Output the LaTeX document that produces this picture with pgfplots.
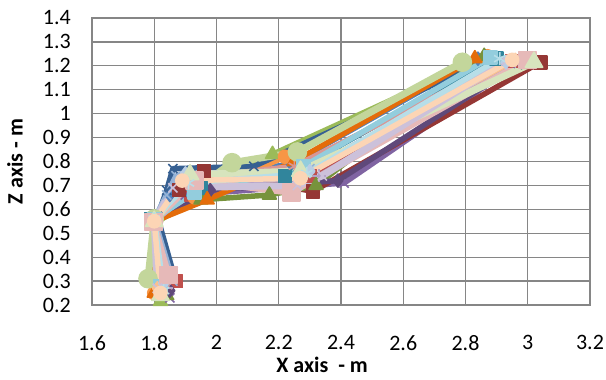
\documentclass[border=0pt]{standalone}
\usepackage{pgfplots}
\pgfplotsset{compat=1.18}
\usepackage{fontspec}
\setmainfont{Carlito}
\definecolor{gridc}{RGB}{134,134,134}
\definecolor{c1}{HTML}{4F81BD}\definecolor{c2}{HTML}{C0504D}\definecolor{c3}{HTML}{9BBB59}
\definecolor{c4}{HTML}{8064A2}\definecolor{c5}{HTML}{4BACC6}\definecolor{c6}{HTML}{F79646}
\definecolor{c7}{HTML}{376092}\definecolor{c8}{HTML}{953735}\definecolor{c9}{HTML}{77933C}
\definecolor{c10}{HTML}{5F497A}\definecolor{c11}{HTML}{31859C}\definecolor{c12}{HTML}{E46C0A}
\definecolor{c13}{HTML}{95B3D7}\definecolor{c14}{HTML}{D99694}\definecolor{c15}{HTML}{C3D69B}
\definecolor{c16}{HTML}{B3A2C7}\definecolor{c17}{HTML}{93CDDD}\definecolor{c18}{HTML}{FAC090}
\definecolor{c19}{HTML}{B9CDE5}\definecolor{c20}{HTML}{E6B9B8}\definecolor{c21}{HTML}{D7E4BD}
\definecolor{c22}{HTML}{CCC1DA}\definecolor{c23}{HTML}{B7DEE8}\definecolor{c24}{HTML}{FCD5B5}
\pgfplotsset{
  ser/.style={color=#1, line width=5.5bp, line join=round, mark size=6.5bp,
    mark options={solid, fill=#1, line width=1.6bp}},
}
\begin{document}
\begin{tikzpicture}
\begin{axis}[
  scale only axis, width=498bp, height=287bp,
  xmin=1.6, xmax=3.2, ymin=0.2, ymax=1.4,
  xtick={1.6,1.8,2.0,2.2,2.4,2.6,2.8,3.0,3.2},
  ytick={0.2,0.3,0.4,0.5,0.6,0.7,0.8,0.9,1.0,1.1,1.2,1.3,1.4},
  major tick length=0pt,
  grid=major,
  grid style={gridc, line width=1.2bp},
  axis line style={gridc, line width=1.2bp},
  /pgf/number format/assume math mode=true,
  /pgf/number format/.cd, fixed, precision=1, /pgfplots/.cd,
  tick label style={font=\fontsize{22bp}{24bp}\selectfont, black},
  xticklabel style={yshift=-27bp},
  yticklabel style={xshift=-17.7bp},
  xlabel={\textbf{X axis\ \ - m}},
  ylabel={\textbf{Z axis - m}},
  label style={font=\fontsize{22bp}{24bp}\selectfont},
  xlabel style={at={(axis description cs:0.462,-0.209)}, anchor=center},
  ylabel style={at={(axis description cs:-0.1546,0.5)}, anchor=center},
]
\addplot[ser=c1, mark=diamond*] coordinates {(1.82,0.26)(1.80,0.55)(1.85,0.66)(1.90,0.72)(2.24,0.79)(2.84,1.23)};
\addplot[ser=c2, mark=square*] coordinates {(1.87,0.30)(1.79,0.55)(1.92,0.66)(2.30,0.74)(2.95,1.22)};
\addplot[ser=c3, mark=triangle*, mark size=8bp] coordinates {(1.82,0.215)(1.80,0.54)(1.95,0.66)(2.18,0.83)(2.86,1.235)};
\addplot[ser=c4, mark=x] coordinates {(1.85,0.23)(1.80,0.55)(1.90,0.66)(2.41,0.71)(2.97,1.21)};
\addplot[ser=c5, mark=asterisk] coordinates {(1.83,0.27)(1.80,0.56)(1.92,0.67)(2.26,0.77)(2.90,1.235)};
\addplot[ser=c6, mark=*] coordinates {(1.80,0.25)(1.80,0.55)(1.93,0.65)(2.22,0.82)(2.87,1.24)};
\addplot[ser=c7, mark=x] coordinates {(1.86,0.34)(1.81,0.57)(1.84,0.68)(1.86,0.77)(2.12,0.78)(2.88,1.23)};
\addplot[ser=c8, mark=square*] coordinates {(1.83,0.25)(1.80,0.55)(1.88,0.68)(1.96,0.76)(2.31,0.675)(3.04,1.215)};
\addplot[ser=c9, mark=triangle*, mark size=8bp] coordinates {(1.84,0.24)(1.80,0.55)(1.95,0.64)(2.17,0.66)(2.32,0.70)(2.86,1.24)};
\addplot[ser=c10, mark=diamond*] coordinates {(1.85,0.26)(1.80,0.55)(1.98,0.68)(2.39,0.72)(2.98,1.215)};
\addplot[ser=c11, mark=square*] coordinates {(1.82,0.27)(1.79,0.56)(1.95,0.69)(2.22,0.74)(2.90,1.23)};
\addplot[ser=c12, mark=triangle*, mark size=8bp] coordinates {(1.80,0.25)(1.80,0.55)(1.97,0.64)(2.25,0.80)(2.83,1.23)};
\addplot[ser=c13, mark=x] coordinates {(1.86,0.30)(1.80,0.56)(1.84,0.66)(1.87,0.74)(2.30,0.77)(2.94,1.22)};
\addplot[ser=c14, mark=asterisk] coordinates {(1.84,0.28)(1.79,0.55)(1.92,0.73)(2.25,0.78)(2.93,1.22)};
\addplot[ser=c15, mark=*, mark size=9bp, line width=7bp] coordinates {(1.78,0.31)(1.80,0.56)(2.05,0.795)(2.26,0.84)(2.79,1.215)};
\addplot[ser=c16, mark=+] coordinates {(1.84,0.27)(1.80,0.55)(1.94,0.70)(2.33,0.74)(2.96,1.22)};
\addplot[ser=c17, mark=square*] coordinates {(1.82,0.28)(1.80,0.56)(1.93,0.67)(2.28,0.78)(2.88,1.235)};
\addplot[ser=c18, mark=diamond*] coordinates {(1.81,0.27)(1.80,0.56)(1.90,0.74)(2.28,0.74)(2.96,1.225)};
\addplot[ser=c19, mark=diamond*] coordinates {(1.83,0.29)(1.80,0.56)(1.90,0.75)(2.30,0.76)(2.93,1.215)};
\addplot[ser=c20, mark=square*, mark size=8.5bp, line width=6.5bp] coordinates {(1.845,0.325)(1.797,0.547)(1.93,0.72)(2.24,0.67)(3.00,1.225)};
\addplot[ser=c21, mark=triangle*, mark size=10bp, line width=7bp] coordinates {(1.82,0.24)(1.80,0.55)(1.915,0.745)(2.27,0.76)(3.02,1.215)};
\addplot[ser=c22, mark=x, line width=7bp] coordinates {(1.81,0.27)(1.80,0.55)(1.86,0.69)(2.26,0.70)(2.34,0.74)(2.93,1.22)};
\addplot[ser=c23, mark=asterisk] coordinates {(1.83,0.26)(1.80,0.56)(1.91,0.71)(2.29,0.75)(2.91,1.23)};
\addplot[ser=c24, mark=*] coordinates {(1.82,0.25)(1.80,0.55)(1.89,0.72)(2.27,0.73)(2.95,1.225)};
\end{axis}
\pgfresetboundingbox
\path[use as bounding box] (-92bp,-75bp) rectangle (514bp,305bp);
\end{tikzpicture}
\end{document}
